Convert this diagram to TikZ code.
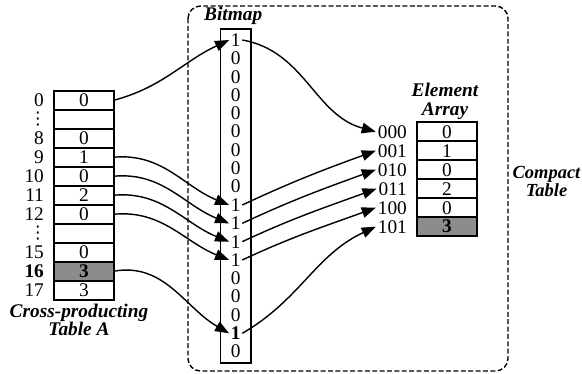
\documentclass[tikz,border=0pt]{standalone}
\usepackage{fontspec}
\setmainfont{Liberation Serif}
\newfontfamily\symfont{DejaVu Sans}
\usepackage{tikz}
\usetikzlibrary{arrows.meta, positioning, fit}

\begin{document}
\begin{tikzpicture}[
    x=0.02cm, y=0.02cm,
    font=\fontsize{11}{12}\selectfont,
    cell/.style={rectangle, draw, line width=1pt, outer sep=0pt, inner sep=0pt, minimum width=1.2cm, minimum height=0.38cm},
    shaded/.style={cell, fill=black!45, font=\fontsize{11}{12}\selectfont\bfseries},
    bit/.style={inner sep=1pt, outer sep=0pt, minimum height=0.3667cm},
    idx/.style={inner sep=1pt},
    vdot/.style={inner sep=0pt, font=\fontsize{10}{10}\selectfont\symfont},
    caption/.style={align=center, inner sep=1pt, font=\fontsize{11}{10.5}\selectfont\bfseries\itshape},
    arrow/.style={-{Triangle[length=8pt, width=6pt]}, line width=0.8pt},
    group/.style={dash pattern=on 2.8pt off 1.4pt, rounded corners=0.25cm, line width=0.8pt},
]
\useasboundingbox (0,0) rectangle (582,-373);

% cross-producting table
\node[cell] (a0) at (84,-100.2) {0};
\node[cell, below=0pt of a0] (gapA) {};
\node[cell, below=0pt of gapA] (a8) {0};
\node[cell, below=0pt of a8] (a9) {1};
\node[cell, below=0pt of a9] (a10) {0};
\node[cell, below=0pt of a10] (a11) {2};
\node[cell, below=0pt of a11] (a12) {0};
\node[cell, below=0pt of a12] (gapB) {};
\node[cell, below=0pt of gapB] (a15) {0};
\node[shaded, below=0pt of a15] (a16) {3};
\node[cell, below=0pt of a16] (a17) {3};

\node[idx, left=0.16cm of a0] (i0) {0};
\node[vdot, left=0.14cm of gapA] (dotsA) {⋮};
\node[idx, left=0.16cm of a8] (i8) {8};
\node[idx, left=0.16cm of a9] (i9) {9};
\node[idx, left=0.16cm of a10] (i10) {10};
\node[idx, left=0.16cm of a11] (i11) {11};
\node[idx, left=0.16cm of a12] (i12) {12};
\node[vdot, left=0.14cm of gapB] (dotsB) {⋮};
\node[idx, left=0.16cm of a15] (i15) {15};
\node[idx, left=0.16cm of a16] (i16) {\textbf{16}};
\node[idx, left=0.16cm of a17] (i17) {17};

\node[caption, below=0.04cm of a17, xshift=-0.1cm] (tableA) {Cross-producting\\Table A};

% bitmap
\node[bit] (b0) at (235.7,-40) {1};
\node[bit, below=0pt of b0] (b1) {0};
\node[bit, below=0pt of b1] (b2) {0};
\node[bit, below=0pt of b2] (b3) {0};
\node[bit, below=0pt of b3] (b4) {0};
\node[bit, below=0pt of b4] (b5) {0};
\node[bit, below=0pt of b5] (b6) {0};
\node[bit, below=0pt of b6] (b7) {0};
\node[bit, below=0pt of b7] (b8) {0};
\node[bit, below=0pt of b8] (b9) {1};
\node[bit, below=0pt of b9] (b10) {1};
\node[bit, below=0pt of b10] (b11) {1};
\node[bit, below=0pt of b11] (b12) {1};
\node[bit, below=0pt of b12] (b13) {0};
\node[bit, below=0pt of b13] (b14) {0};
\node[bit, below=0pt of b14] (b15) {0};
\node[bit, below=0pt of b15] (b16) {\textbf{1}};
\node[bit, below=0pt of b16] (b17) {0};
\node[draw, line width=1pt, fit=(b0)(b17), inner xsep=0.172cm, inner ysep=0.04cm] (bitmap) {};
\node[caption, above=0.02cm of bitmap, xshift=-0.05cm] (bitlbl) {Bitmap};

% element array
\node[cell] (e0) at (447,-131.7) {0};
\node[cell, below=0pt of e0] (e1) {1};
\node[cell, below=0pt of e1] (e2) {0};
\node[cell, below=0pt of e2] (e3) {2};
\node[cell, below=0pt of e3] (e4) {0};
\node[shaded, below=0pt of e4] (e5) {3};

\node[idx, left=0.16cm of e0] (n0) {000};
\node[idx, left=0.16cm of e1] (n1) {001};
\node[idx, left=0.16cm of e2] (n2) {010};
\node[idx, left=0.16cm of e3] (n3) {011};
\node[idx, left=0.16cm of e4] (n4) {100};
\node[idx, left=0.16cm of e5] (n5) {101};

\node[caption, above=0.01cm of e0, xshift=-0.04cm] (arrlbl) {Element\\Array};

% compact table
\draw[group] (188,-6) rectangle (508,-371);
\node[caption, font=\fontsize{10.5}{10.5}\selectfont\bfseries\itshape] (compact) at (546.5,-181.5) {Compact\\Table};

\draw[arrow] (a0.east) to[out=15, in=205] (b0.west);
\draw[arrow] (a9.east) to[out=5, in=158] (b9.west);
\draw[arrow] (a10.east) to[out=5, in=158] (b10.west);
\draw[arrow] (a11.east) to[out=5, in=158] (b11.west);
\draw[arrow] (a12.east) to[out=5, in=158] (b12.west);
\draw[arrow] (a16.east) to[out=10, in=150] (b16.west);

\draw[arrow] (b0.east) to[out=-10, in=165] (n0.west);
\draw[arrow] (b9.east) to[out=25, in=200] (n1.west);
\draw[arrow] (b10.east) to[out=25, in=200] (n2.west);
\draw[arrow] (b11.east) to[out=25, in=200] (n3.west);
\draw[arrow] (b12.east) to[out=25, in=200] (n4.west);
\draw[arrow] (b16.east) to[out=30, in=205] (n5.west);

\end{tikzpicture}
\end{document}
